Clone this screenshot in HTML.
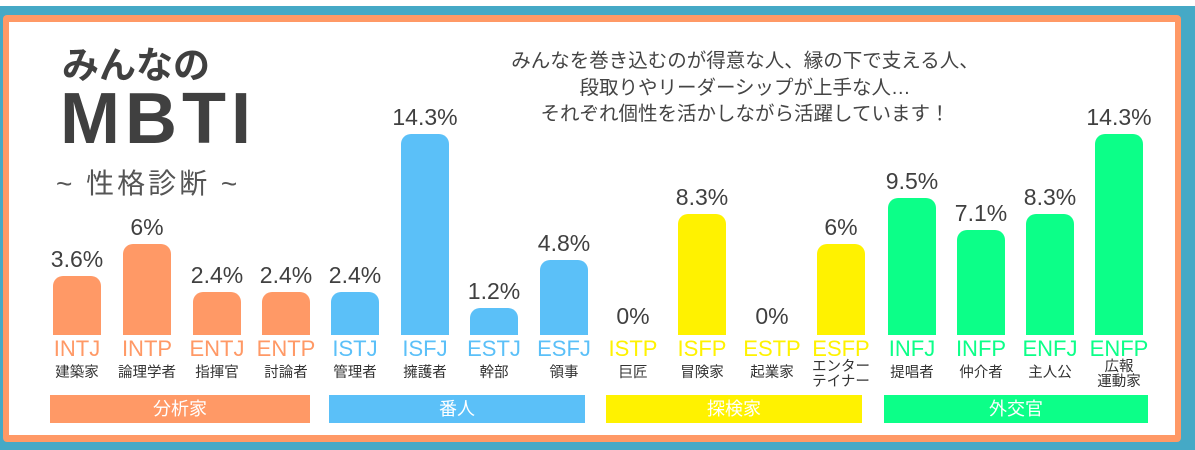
<!DOCTYPE html>
<html><head><meta charset="utf-8"><style>
body{margin:0;width:1195px;height:450px;background:#45a9c6;position:relative;overflow:hidden;font-family:"Liberation Sans","Noto Sans CJK JP",sans-serif}
.top{position:absolute;left:0;top:0;width:1195px;height:6px;background:#fff}
.frame{position:absolute;left:3px;top:15px;width:1178px;height:427px;background:#ff9966;border-radius:4px}
.inner{position:absolute;left:9px;top:22px;width:1166px;height:413px;background:#fff}
.b{position:absolute;width:48px;border-radius:10px 10px 0 0}
.p{position:absolute;width:90px;text-align:center;font-size:23px;color:#404040}
.t{position:absolute;width:90px;text-align:center;font-size:22px;top:336px}
.s{position:absolute;width:90px;text-align:center;font-size:14.5px;color:#333;top:364px;line-height:15px}
.c{position:absolute;top:395px;height:28px;color:#fff;font-size:18px;text-align:center;line-height:28px}
</style></head><body>
<div class="top"></div><div class="frame"></div><div class="inner"></div>
<div style="position:absolute;left:62px;top:35px;font-size:37px;font-weight:bold;color:#404040">みんなの</div>
<div style="position:absolute;left:60px;top:83px;font-size:72px;font-weight:bold;color:#404040;letter-spacing:5px;line-height:72px">MBTI</div>
<div style="position:absolute;left:56px;top:162px;font-size:28px;color:#555;letter-spacing:3px">~ 性格診断 ~</div>
<div style="position:absolute;left:445px;top:48px;width:600px;text-align:center;font-size:19.5px;color:#444;line-height:26.5px">みんなを巻き込むのが得意な人、縁の下で支える人、<br>段取りやリーダーシップが上手な人…<br>それぞれ個性を活かしながら活躍しています！</div>
<div id="g"></div>
<script>
var d=[["INTJ","建築家",53,276,"3.6%","#ff9966"],["INTP","論理学者",123,244,"6%","#ff9966"],["ENTJ","指揮官",193,292,"2.4%","#ff9966"],["ENTP","討論者",262,292,"2.4%","#ff9966"],
["ISTJ","管理者",331,292,"2.4%","#5bc0f8"],["ISFJ","擁護者",401,134,"14.3%","#5bc0f8"],["ESTJ","幹部",470,308,"1.2%","#5bc0f8"],["ESFJ","領事",540,260,"4.8%","#5bc0f8"],
["ISTP","巨匠",609,335,"0%","#fff200"],["ISFP","冒険家",678,214,"8.3%","#fff200"],["ESTP","起業家",748,335,"0%","#fff200"],["ESFP","エンター<br>テイナー",817,244,"6%","#fff200"],
["INFJ","提唱者",888,198,"9.5%","#0cff88"],["INFP","仲介者",957,230,"7.1%","#0cff88"],["ENFJ","主人公",1026,214,"8.3%","#0cff88"],["ENFP","広報<br>運動家",1095,134,"14.3%","#0cff88"]];
var h="";d.forEach(function(e){var cx=e[2]+24;
if(e[3]<335)h+='<div class="b" style="left:'+e[2]+'px;top:'+e[3]+'px;height:'+(335-e[3])+'px;background:'+e[5]+'"></div>';
h+='<div class="p" style="left:'+(cx-45)+'px;top:'+(e[3]-(e[3]<335?30:32))+'px">'+e[4]+'</div>';
h+='<div class="t" style="left:'+(cx-45)+'px;color:'+e[5]+'">'+e[0]+'</div>';
var two=e[1].indexOf("<br>")>0;
h+='<div class="s" style="left:'+(cx-45)+'px;top:'+(two?360:366)+'px">'+e[1]+'</div>';});
document.getElementById("g").innerHTML=h;
</script>
<div class="c" style="left:50px;width:260px;background:#ff9966">分析家</div>
<div class="c" style="left:329px;width:256px;background:#5bc0f8">番人</div>
<div class="c" style="left:606px;width:256px;background:#fff200">探検家</div>
<div class="c" style="left:884px;width:264px;background:#0cff88">外交官</div>
</body></html>
